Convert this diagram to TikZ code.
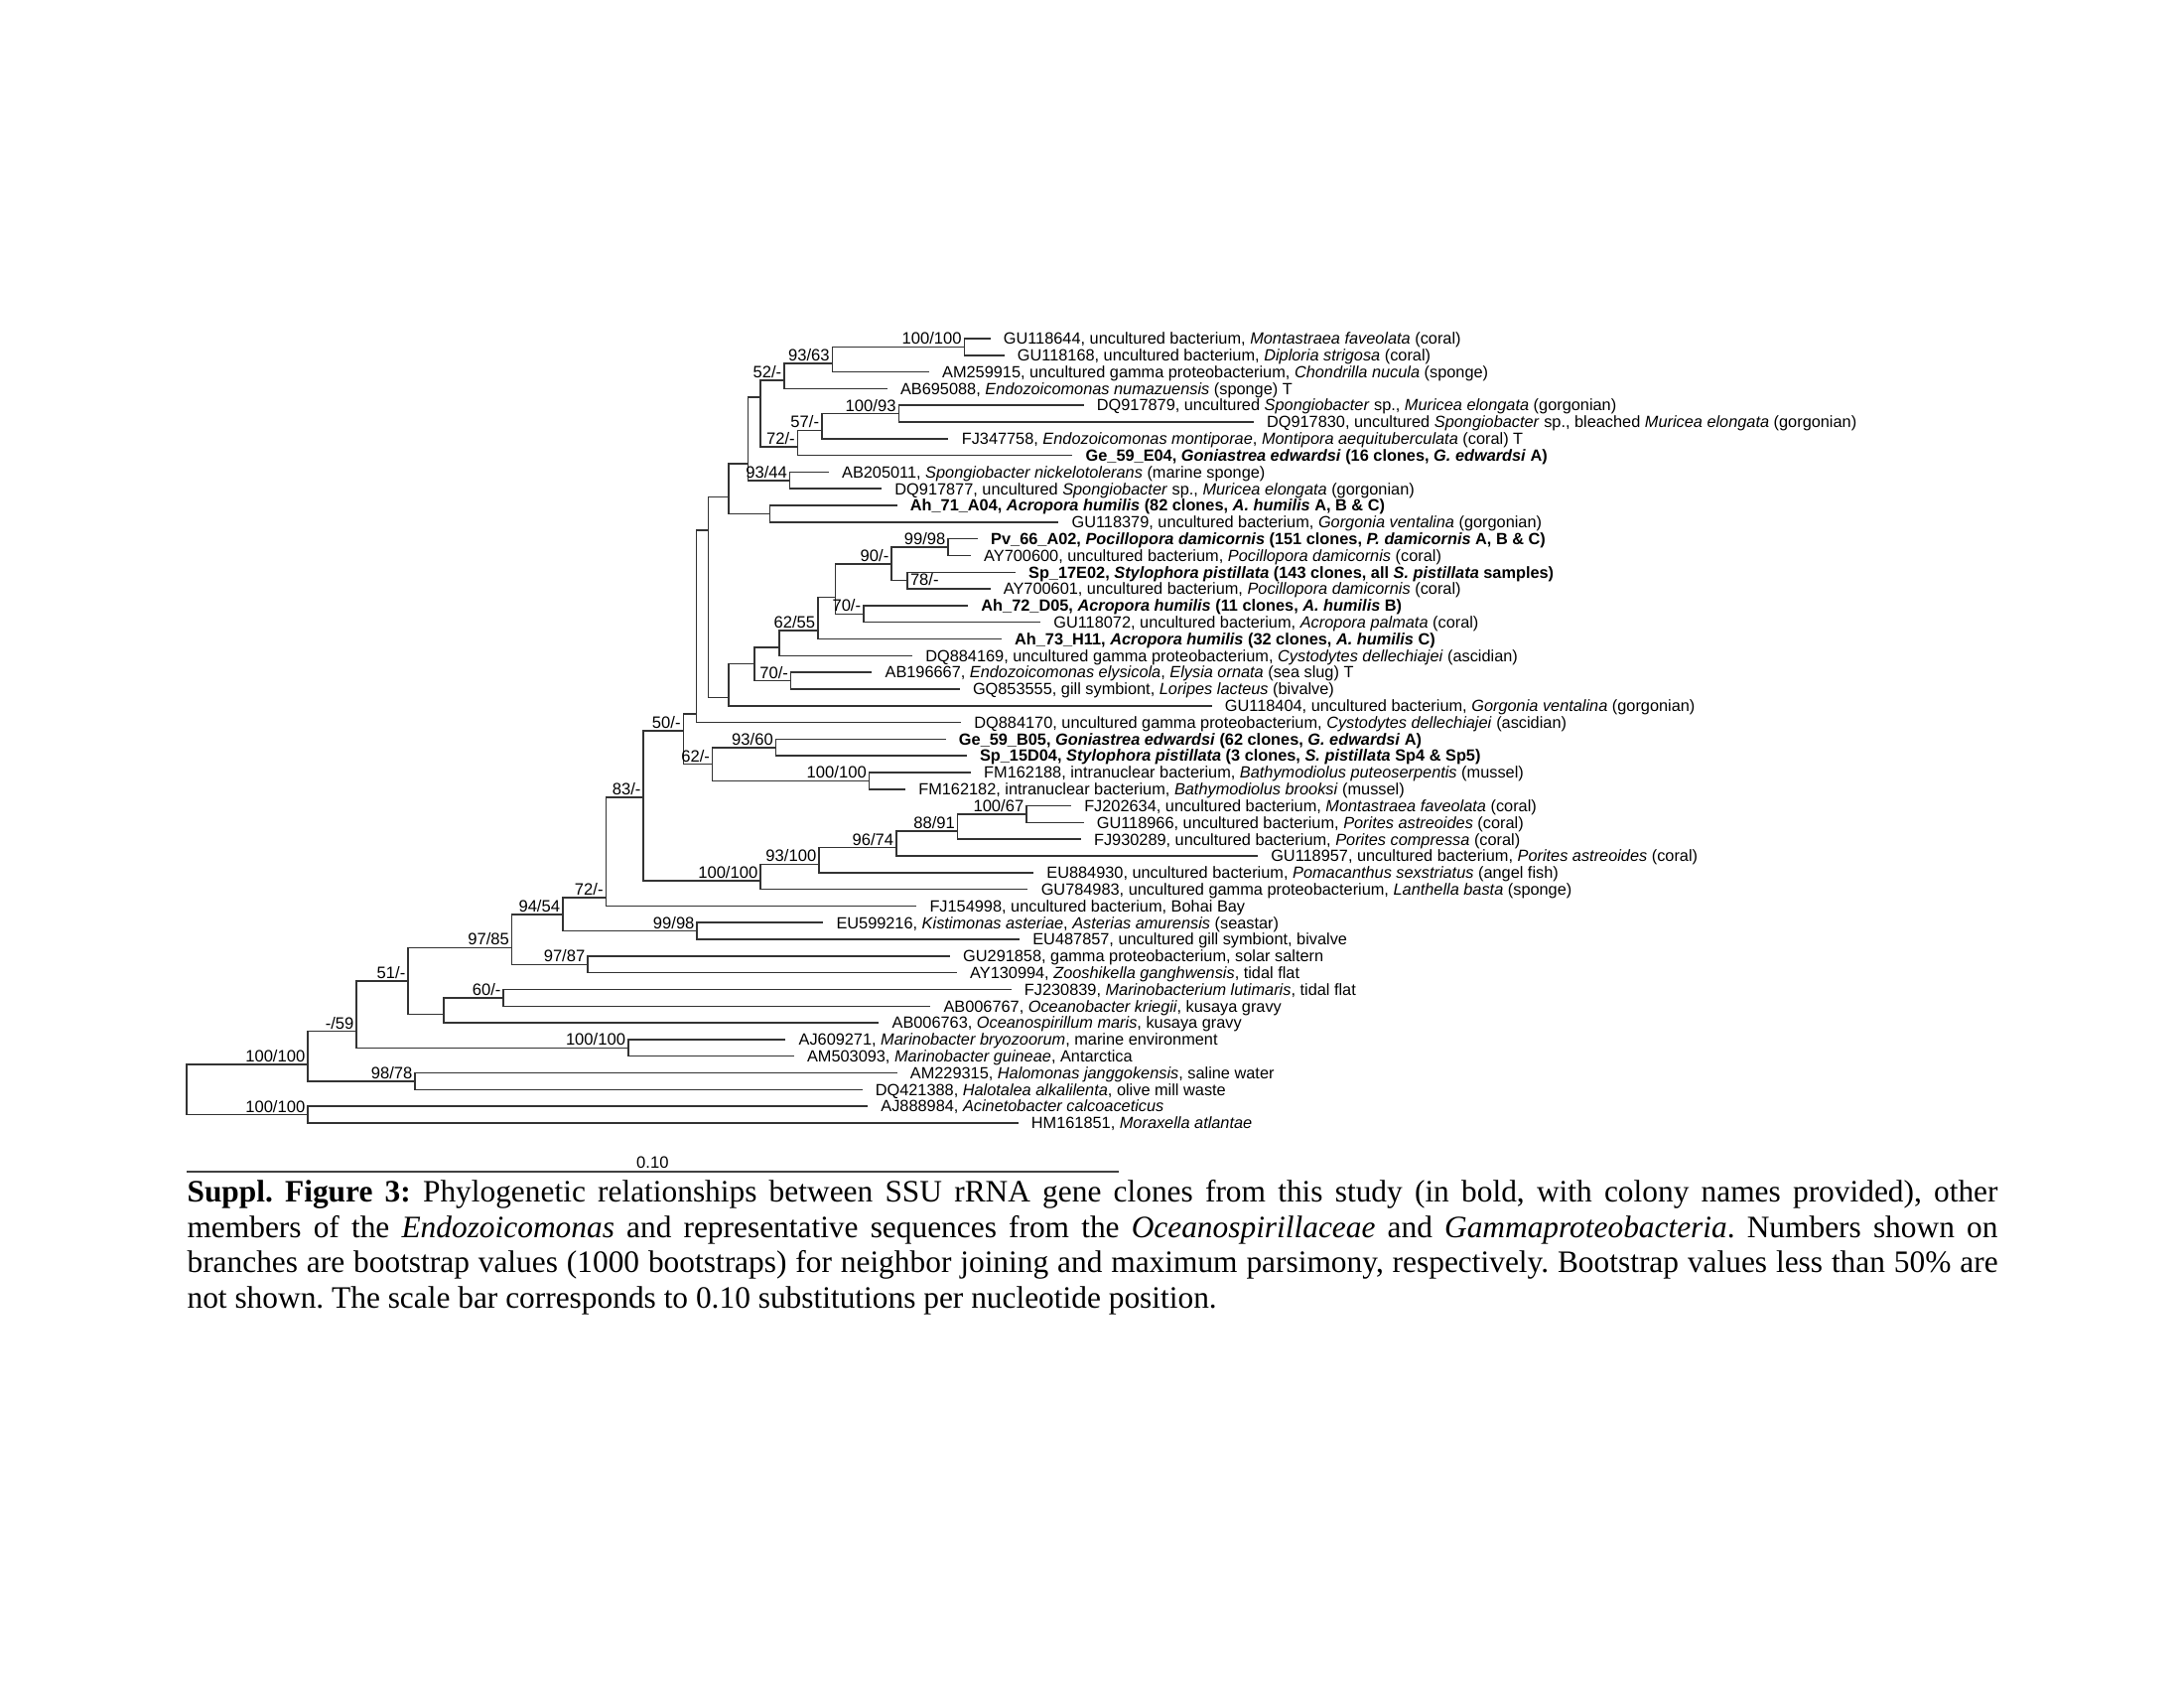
\documentclass[tikz,border=0pt]{standalone}
\usepackage{fontspec}
\setmainfont{Liberation Serif}
\newfontfamily\treefont{Liberation Sans}
% leaf: row index, end of branch (x), label text
\newcommand\leaf[3]{%
  \coordinate (l#1) at (#2,#1);
  \node[leaflabel] (t#1) at (l#1) {#3};}
\begin{document}
\frenchspacing
\begin{tikzpicture}[x=0.507pt,y=-0.507pt,
  branch/.style={draw=black!80, line width=0.55pt},
  leaflabel/.style={anchor=base west, inner xsep=4.6pt, inner ysep=0pt, yshift=-2.1pt,
    font=\treefont\fontsize{5.9}{7}\selectfont, text=black},
  boot/.style={anchor=base east, inner sep=0pt, xshift=-0.8pt, yshift=0.9pt,
    font=\treefont\fontsize{6}{7}\selectfont, text=black},
]
\fill[white] (0,0) rectangle (1568,1212);
\useasboundingbox (0,0) rectangle (1568,1212);

\begin{scope}[yshift=-117.13pt, y=-6.0739pt]
% ---------- internal nodes (x in px, y in leaf rows) ----------
\coordinate (R) at (134,46.5);
\coordinate (A) at (221,44.5);
\coordinate (OUT) at (221,47.5);
\coordinate (B) at (256,42.5);
\coordinate (HALO) at (298,45.5);
\coordinate (C) at (293,39.5);
\coordinate (MARINO) at (451,43.5);
\coordinate (D) at (367.5,37.5);
\coordinate (OC) at (318.5,41.5);
\coordinate (OC2) at (361.5,40.5);
\coordinate (E) at (404,35.5);
\coordinate (ZOO) at (422,38.5);
\coordinate (F) at (435,34.5);
\coordinate (KIST) at (500.5,36.5);
\coordinate (G) at (462,28.5);
\coordinate (POR) at (546,33.5);
\coordinate (POR2) at (588,32.5);
\coordinate (POR3) at (643.5,31.5);
\coordinate (POR4) at (687.5,30.5);
\coordinate (POR5) at (737,29.5);
\coordinate (H) at (490.6,24.5);
\coordinate (J) at (511.5,26.5);
\coordinate (K) at (557,25.5);
\coordinate (BATH) at (624,27.5);
\coordinate (I) at (500.1,23.5);
\coordinate (L) at (508.6,12.5);
\coordinate (M) at (523.1,10.5);
\coordinate (N) at (523.3,22.5);
\coordinate (O) at (541.6,20.5);
\coordinate (P) at (559.4,19.5);
\coordinate (Q) at (567.8,21.5);
\coordinate (S) at (587.2,18.5);
\coordinate (T) at (599.8,16.5);
\coordinate (U) at (640.1,14.5);
\coordinate (V) at (620,17.5);
\coordinate (W) at (680.8,13.5);
\coordinate (X) at (651.6,15.5);
\coordinate (AH) at (552.8,11.5);
\coordinate (Y) at (537.1,8.5);
\coordinate (SP) at (567.1,9.5);
\coordinate (Z) at (546,4.5);
\coordinate (AA) at (563,3.5);
\coordinate (BB) at (572.7,7.5);
\coordinate (CC) at (597.6,2.5);
\coordinate (DD) at (692.3,1.5);
\coordinate (EE) at (590,6.5);
\coordinate (FF) at (645.2,5.5);

% ---------- leaves ----------
\leaf{1}{711}{GU118644, uncultured bacterium, \textit{Montastraea faveolata} (coral)}
\leaf{2}{721}{GU118168, uncultured bacterium, \textit{Diploria strigosa} (coral)}
\leaf{3}{667}{AM259915, uncultured gamma proteobacterium, \textit{Chondrilla nucula} (sponge)}
\leaf{4}{637}{AB695088, \textit{Endozoicomonas numazuensis} (sponge) T}
\leaf{5}{778}{DQ917879, uncultured \textit{Spongiobacter} sp., \textit{Muricea elongata} (gorgonian)}
\leaf{6}{900}{DQ917830, uncultured \textit{Spongiobacter} sp., bleached \textit{Muricea elongata} (gorgonian)}
\leaf{7}{681}{FJ347758, \textit{Endozoicomonas montiporae}, \textit{Montipora aequituberculata} (coral) T}
\leaf{8}{770}{\textbf{Ge\_59\_E04, \textit{Goniastrea edwardsi} (16 clones, \textit{G. edwardsi} A)}}
\leaf{9}{595}{AB205011, \textit{Spongiobacter nickelotolerans} (marine sponge)}
\leaf{10}{633}{DQ917877, uncultured \textit{Spongiobacter} sp., \textit{Muricea elongata} (gorgonian)}
\leaf{11}{644}{\textbf{Ah\_71\_A04, \textit{Acropora humilis} (82 clones, \textit{A. humilis} A, B \& C)}}
\leaf{12}{760}{GU118379, uncultured bacterium, \textit{Gorgonia ventalina} (gorgonian)}
\leaf{13}{702}{\textbf{Pv\_66\_A02, \textit{Pocillopora damicornis} (151 clones, \textit{P. damicornis} A, B \& C)}}
\leaf{14}{697}{AY700600, uncultured bacterium, \textit{Pocillopora damicornis} (coral)}
\leaf{15}{729}{\textbf{Sp\_17E02, \textit{Stylophora pistillata} (143 clones, all \textit{S. pistillata} samples)}}
\leaf{16}{711}{AY700601, uncultured bacterium, \textit{Pocillopora damicornis} (coral)}
\leaf{17}{695}{\textbf{Ah\_72\_D05, \textit{Acropora humilis} (11 clones, \textit{A. humilis} B)}}
\leaf{18}{747}{GU118072, uncultured bacterium, \textit{Acropora palmata} (coral)}
\leaf{19}{719}{\textbf{Ah\_73\_H11, \textit{Acropora humilis} (32 clones, \textit{A. humilis} C)}}
\leaf{20}{655}{DQ884169, uncultured gamma proteobacterium, \textit{Cystodytes dellechiajei} (ascidian)}
\leaf{21}{626}{AB196667, \textit{Endozoicomonas elysicola}, \textit{Elysia ornata} (sea slug) T}
\leaf{22}{689}{GQ853555, gill symbiont, \textit{Loripes lacteus} (bivalve)}
\leaf{23}{870}{GU118404, uncultured bacterium, \textit{Gorgonia ventalina} (gorgonian)}
\leaf{24}{690}{DQ884170, uncultured gamma proteobacterium, \textit{Cystodytes dellechiajei} (ascidian)}
\leaf{25}{679}{\textbf{Ge\_59\_B05, \textit{Goniastrea edwardsi} (62 clones, \textit{G. edwardsi} A)}}
\leaf{26}{694}{\textbf{Sp\_15D04, \textit{Stylophora pistillata} (3 clones, \textit{S. pistillata} Sp4 \& Sp5)}}
\leaf{27}{697}{FM162188, intranuclear bacterium, \textit{Bathymodiolus puteoserpentis} (mussel)}
\leaf{28}{650}{FM162182, intranuclear bacterium, \textit{Bathymodiolus brooksi} (mussel)}
\leaf{29}{769}{FJ202634, uncultured bacterium, \textit{Montastraea faveolata} (coral)}
\leaf{30}{778}{GU118966, uncultured bacterium, \textit{Porites astreoides} (coral)}
\leaf{31}{776}{FJ930289, uncultured bacterium, \textit{Porites compressa} (coral)}
\leaf{32}{903}{GU118957, uncultured bacterium, \textit{Porites astreoides} (coral)}
\leaf{33}{742}{EU884930, uncultured bacterium, \textit{Pomacanthus sexstriatus} (angel fish)}
\leaf{34}{738}{GU784983, uncultured gamma proteobacterium, \textit{Lanthella basta} (sponge)}
\leaf{35}{658}{FJ154998, uncultured bacterium, Bohai Bay}
\leaf{36}{591}{EU599216, \textit{Kistimonas asteriae}, \textit{Asterias amurensis} (seastar)}
\leaf{37}{732}{EU487857, uncultured gill symbiont, bivalve}
\leaf{38}{682}{GU291858, gamma proteobacterium, solar saltern}
\leaf{39}{687}{AY130994, \textit{Zooshikella ganghwensis}, tidal flat}
\leaf{40}{726}{FJ230839, \textit{Marinobacterium lutimaris}, tidal flat}
\leaf{41}{668}{AB006767, \textit{Oceanobacter kriegii}, kusaya gravy}
\leaf{42}{631}{AB006763, \textit{Oceanospirillum maris}, kusaya gravy}
\leaf{43}{564}{AJ609271, \textit{Marinobacter bryozoorum}, marine environment}
\leaf{44}{570}{AM503093, \textit{Marinobacter guineae}, Antarctica}
\leaf{45}{644}{AM229315, \textit{Halomonas janggokensis}, saline water}
\leaf{46}{619}{DQ421388, \textit{Halotalea alkalilenta}, olive mill waste}
\leaf{47}{623}{AJ888984, \textit{Acinetobacter calcoaceticus}}
\leaf{48}{731}{HM161851, \textit{Moraxella atlantae}}

% ---------- branches (parent/child) ----------
\foreach \p/\c in {R/A, R/OUT, OUT/l47, OUT/l48, A/B, A/HALO, HALO/l45, HALO/l46,
  B/C, B/MARINO, MARINO/l43, MARINO/l44, C/D, C/OC, OC/OC2, OC/l42, OC2/l40, OC2/l41,
  D/E, D/ZOO, ZOO/l38, ZOO/l39, E/F, E/KIST, KIST/l36, KIST/l37, F/G, F/l35,
  G/H, G/POR, POR/POR2, POR/l34, POR2/POR3, POR2/l33, POR3/POR4, POR3/l32,
  POR4/POR5, POR4/l31, POR5/l29, POR5/l30,
  H/I, H/J, J/K, J/BATH, K/l25, K/l26, BATH/l27, BATH/l28, I/L, I/l24,
  L/M, L/N, N/O, N/l23, O/P, O/Q, Q/l21, Q/l22, P/S, P/l20, S/T, S/l19,
  T/U, T/V, V/l17, V/l18, U/W, U/X, W/l13, W/l14, X/l15, X/l16,
  M/Y, M/AH, AH/l11, AH/l12, Y/Z, Y/SP, SP/l9, SP/l10, Z/AA, Z/BB,
  AA/CC, AA/l4, CC/DD, CC/l3, DD/l1, DD/l2, BB/EE, BB/l8, EE/FF, EE/l7, FF/l5, FF/l6}
  \draw[branch] (\p) |- (\c);

% ---------- bootstrap values (NJ/MP) ----------
\foreach \n/\v in {DD/{100/100}, CC/{93/63}, AA/{52/-}, FF/{100/93}, EE/{57/-}, BB/{72/-},
  SP/{93/44}, W/{99/98}, U/{90/-}, V/{70/-}, S/{62/55}, Q/{70/-}, H/{50/-}, K/{93/60},
  J/{62/-}, BATH/{100/100}, G/{83/-}, POR5/{100/67}, POR4/{88/91}, POR3/{96/74},
  POR2/{93/100}, POR/{100/100}, F/{72/-}, E/{94/54}, KIST/{99/98}, D/{97/85},
  ZOO/{97/87}, C/{51/-}, OC2/{60/-}, B/{-/59}, MARINO/{100/100}, A/{100/100},
  HALO/{98/78}, OUT/{100/100}}
  \node[boot] (b\n) at (\n) {\v};
\node[boot, anchor=west, xshift=1.6pt, yshift=-0.6pt] (bX) at (X) {78/-};
\end{scope}

% ---------- scale bar ----------
\coordinate (sbL) at (134,841);
\coordinate (sbR) at (803,841);
\draw[draw=black!75, line width=1pt] (sbL) -- (sbR);
\node[anchor=base, inner sep=0pt, font=\treefont\fontsize{6}{7}\selectfont] (sbT) at (468.5,838.3) {0.10};

% ---------- caption ----------
\node[anchor=base west, inner sep=0pt, text width=659.1pt, align=justify,
  font=\fontsize{11.34}{12.84}\selectfont] (cap) at (134,863)
{\textbf{Suppl. Figure 3:} Phylogenetic relationships between SSU rRNA gene clones from this study (in bold, with colony names provided), other\linebreak
members of the \textit{Endozoicomonas} and representative sequences from the \textit{Oceanospirillaceae} and \textit{Gammaproteobacteria}. Numbers shown on\linebreak
branches are bootstrap values (1000 bootstraps) for neighbor joining and maximum parsimony, respectively. Bootstrap values less than 50\% are\linebreak
not shown. The scale bar corresponds to 0.10 substitutions per nucleotide position.};
\end{tikzpicture}
\end{document}
